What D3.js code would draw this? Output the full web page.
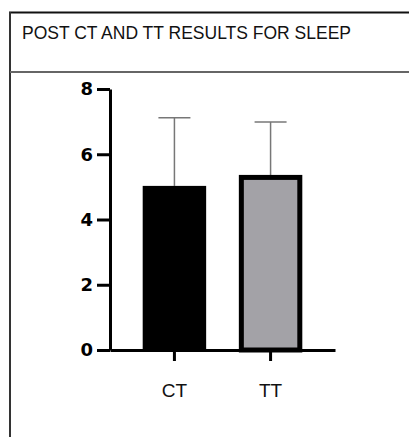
<!DOCTYPE html>
<html lang="en">
<head>
    <meta charset="UTF-8">
    <title>Post CT and TT results for sleep</title>
    <script src="https://d3js.org/d3.v7.min.js"></script>
    <style>
        body { margin: 0; background: white; }
    </style>
</head>
<body>
<svg width="409" height="437"></svg>
<script>
// data
var groups = ["CT", "TT"];
var means = [5.03, 5.29];
var upperErr = [7.12, 6.99];
var fills = ["#000000", "#a3a2a7"];
var yTicks = [0, 2, 4, 6, 8];

var svg = d3.select("svg");

// table frame
svg.append("line")
    .attr("x1", 9).attr("x2", 409).attr("y1", 12.5).attr("y2", 12.5)
    .attr("stroke", "#111").attr("stroke-width", 2);
svg.append("line")
    .attr("x1", 10).attr("x2", 10).attr("y1", 12).attr("y2", 437)
    .attr("stroke", "#333").attr("stroke-width", 2);
svg.append("line")
    .attr("x1", 10).attr("x2", 409).attr("y1", 72).attr("y2", 72)
    .attr("stroke", "#666").attr("stroke-width", 2);

// title
svg.append("text")
    .attr("x", 22)
    .attr("y", 39)
    .style("font-family", "Liberation Sans, Arial, sans-serif")
    .style("font-size", "17.5px")
    .attr("fill", "#111")
    .text("POST CT AND TT RESULTS FOR SLEEP");

// scales
var x = d3.scaleBand().domain(groups).range([110, 335]).paddingInner(0.34).paddingOuter(0.34);
var y = d3.scaleLinear().domain([0, 8]).range([350, 89]);

// error bars (drawn first so bars cover the lower part)
var err = svg.append("g");
groups.forEach(function (g, i) {
    var cx = x(g) + x.bandwidth() / 2;
    err.append("line")
        .attr("x1", cx).attr("x2", cx)
        .attr("y1", y(means[i])).attr("y2", y(upperErr[i]))
        .attr("stroke", "#777").attr("stroke-width", 1.5);
    err.append("line")
        .attr("x1", cx - 16).attr("x2", cx + 16)
        .attr("y1", y(upperErr[i])).attr("y2", y(upperErr[i]))
        .attr("stroke", "#777").attr("stroke-width", 1.5);
});

// bars
svg.append("g")
    .selectAll("rect")
    .data(groups)
    .enter()
    .append("rect")
    .attr("x", function (d, i) { return i == 1 ? x(d) + 2.5 : x(d); })
    .attr("width", function (d, i) { return i == 1 ? x.bandwidth() - 5 : x.bandwidth(); })
    .attr("y", function (d, i) { return y(means[i]); })
    .attr("height", function (d, i) { return y(0) - y(means[i]); })
    .attr("fill", function (d, i) { return fills[i]; })
    .attr("stroke", function (d, i) { return i == 1 ? "#000" : "none"; })
    .attr("stroke-width", 5);

// y axis
var yAxis = svg.append("g")
    .attr("transform", "translate(110,0)")
    .call(d3.axisLeft(y).tickValues(yTicks).tickSize(13).tickSizeOuter(0).tickPadding(4));
yAxis.select(".domain").attr("stroke", "#000").attr("stroke-width", 3);
yAxis.selectAll(".tick line").attr("stroke", "#000").attr("stroke-width", 3);
yAxis.selectAll(".tick text")
    .style("font-family", "DejaVu Sans, sans-serif")
    .style("font-weight", "bold")
    .style("font-size", "18px")
    .attr("fill", "#000");

// x axis
var xAxis = svg.append("g")
    .attr("transform", "translate(0,350)")
    .call(d3.axisBottom(x).tickSize(11).tickSizeOuter(0).tickPadding(23));
xAxis.select(".domain").attr("stroke", "#000").attr("stroke-width", 3);
xAxis.selectAll(".tick line").attr("stroke", "#000").attr("stroke-width", 3);
xAxis.selectAll(".tick text")
    .style("font-family", "Liberation Sans, Arial, sans-serif")
    .style("font-size", "19px")
    .attr("fill", "#111");
</script>
</body>
</html>
